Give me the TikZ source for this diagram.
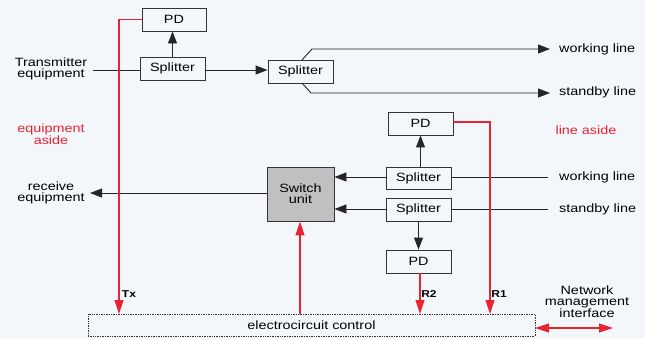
\documentclass[tikz,border=0pt]{standalone}
\usepackage{fontspec}
\setmainfont{Liberation Sans}[FakeStretch=1.2]
\usetikzlibrary{arrows.meta}
\definecolor{bg}{RGB}{243,246,251}
\definecolor{myred}{RGB}{232,36,48}
\definecolor{boxgray}{RGB}{192,192,192}
\begin{document}
\begin{tikzpicture}[x=1pt,y=-1pt,
  every node/.style={font=\fontsize{12}{11}\selectfont, align=center},
  box/.style={draw=black!80, line width=0.9pt, inner sep=0pt, minimum width=65pt, minimum height=23pt},
  conn/.style={draw=black!85, line width=0.9pt},
  arr/.style={conn, -{Triangle[length=12pt,width=9pt]}},
  redl/.style={draw=myred, line width=1.1pt},
  redarr/.style={redl, -{Triangle[length=14pt,width=9pt]}},
  lab/.style={font=\fontsize{10}{10}\selectfont\bfseries, inner sep=1pt},
  side/.style={text=myred}]
\fill[bg] (0,0) rectangle (645,338);
\useasboundingbox (0,0) rectangle (645,338);

% nodes
\node[box, minimum width=64pt] (pd1) at (174,19.5) {PD};
\node[box] (sp1) at (172.5,68.5) {Splitter};
\node[box] (sp2) at (300.5,71.5) {Splitter};
\node[box] (pd2) at (420.5,123.5) {PD};
\node[box, fill=boxgray, minimum width=67pt, minimum height=54pt] (sw) at (300.5,194) {Switch\\unit};
\node[box, minimum height=22pt] (sp3) at (418.5,178) {Splitter};
\node[box] (sp4) at (418.5,209.5) {Splitter};
\node[box] (pd3) at (418.5,261.5) {PD};
\node[draw=black!80, densely dotted, line width=0.7pt, minimum width=447pt, minimum height=22pt, inner sep=0pt] (ec) at (311.5,325) {electrocircuit control};

\node (tx) at (51,69) {Transmitter\\equipment};
\node (rx) at (51,193) {receive\\equipment};
\node[side] (ea) at (51,134) {equipment\\aside};
\node[side] (la) at (586,130) {line aside};
\node[anchor=west, inner sep=0pt] (wl1) at (559,49) {working line};
\node[anchor=west, inner sep=0pt] (sl1) at (559,92) {standby line};
\node[anchor=west, inner sep=0pt] (wl2) at (559,177) {working line};
\node[anchor=west, inner sep=0pt] (sl2) at (559,209) {standby line};
\node (nmi) at (587,302) {Network\\management\\interface};

% coordinates
\coordinate (txe) at (93,70);
\coordinate (s2t) at (302,60);
\coordinate (s2tb) at (312,49);
\coordinate (wl1e) at (550,49);
\coordinate (s2b) at (302,83);
\coordinate (s2bb) at (311,93);
\coordinate (sl1e) at (550,93);
\coordinate (wl2s) at (548,177);
\coordinate (sl2s) at (548,209);
\coordinate (rxe) at (90,193);
\coordinate (txc) at (119,19.5);
\coordinate (txd) at (119,314);
\coordinate (r1c) at (490,122);
\coordinate (r1d) at (490,314);
\coordinate (r2d) at (420,314);
\coordinate (swd) at (300,314);
\coordinate (nmie) at (613,328);
\coordinate (ece) at (535,328);

% black connectors
\draw[conn] (txe) -- (sp1.west |- txe);
\draw[arr] (sp1.north) -- (pd1.south -| sp1.north);
\draw[arr] (sp1.east |- txe) -- (sp2.west |- txe);
\draw[arr] (s2t) -- (s2tb) -- (wl1e);
\draw[arr] (s2b) -- (s2bb) -- (sl1e);
\draw[conn] (wl2s) -- (sp3.east |- wl2s);
\draw[conn] (sl2s) -- (sp4.east |- sl2s);
\draw[arr] (sp3.west |- wl2s) -- (sw.east |- wl2s);
\draw[arr] (sp4.west |- sl2s) -- (sw.east |- sl2s);
\draw[arr] (sp3.north -| pd2.south) -- (pd2.south);
\draw[arr] (sp4.south) -- (pd3.north);
\draw[arr] (sw.west |- rxe) -- (rxe);

% red connectors
\draw[redarr] (pd1.west) -- (txc) -- (txd);
\draw[redarr] (pd2.east |- r1c) -- (r1c) -- (r1d);
\draw[redarr] (pd3.south -| r2d) -- (r2d);
\draw[redarr] (swd) -- (sw.south -| swd);
\draw[redl, {Triangle[length=14pt,width=9pt]}-{Triangle[length=14pt,width=9pt]}] (ece) -- (nmie);

% labels
\node[lab] at (129,294) {Tx};
\node[lab] at (429,294) {R2};
\node[lab] at (499,294) {R1};
\end{tikzpicture}
\end{document}
